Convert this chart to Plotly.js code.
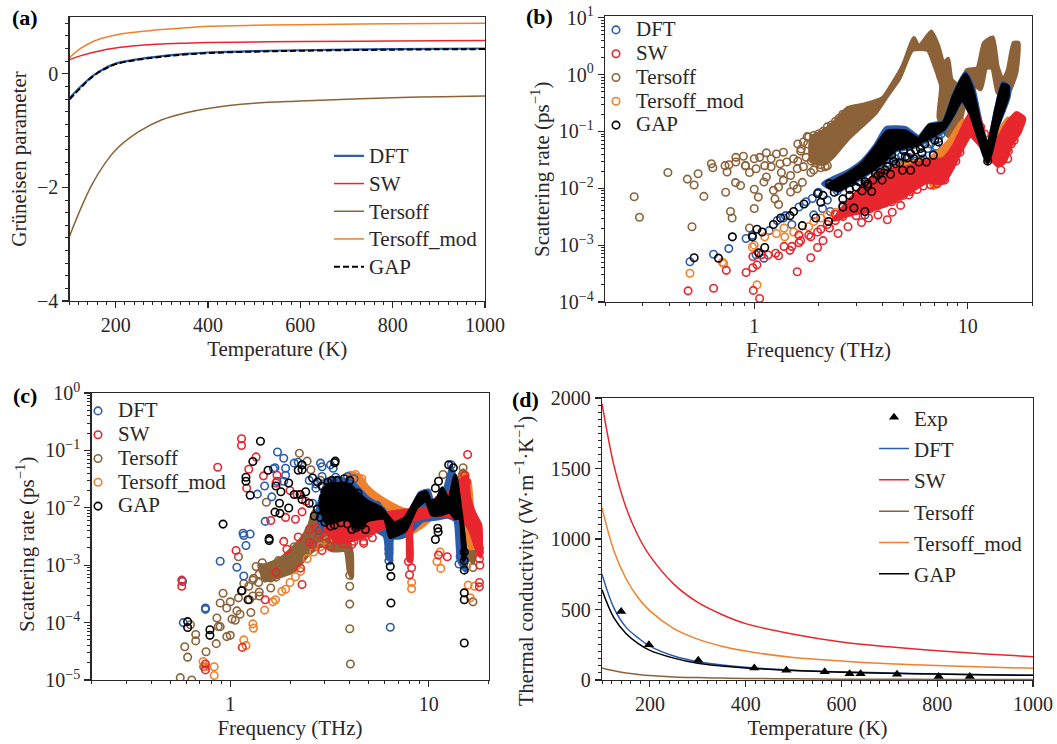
<!DOCTYPE html>
<html><head><meta charset="utf-8">
<script src="https://cdn.plot.ly/plotly-3.0.1.min.js"></script>
<style>html,body{margin:0;padding:0;background:#fff}</style></head>
<body><div id="chart" style="width:1057px;height:744px"></div>
<script>
const seriesNames=['DFT','SW','Tersoff','Tersoff_mod','GAP'];
const colDFT='#2b5caa',colSW='#e8262d',colTer='#8c6239',colMod='#f0802c',colGAP='#000000';

// panel (a)
const aT=[100,125,150,175,200,250,300,350,400,500,600,800,1000];
const aDFT=[-0.43,-0.22,-0.04,0.09,0.18,0.26,0.31,0.35,0.375,0.40,0.415,0.435,0.445];
const aSW=[0.25,0.32,0.375,0.42,0.456,0.50,0.526,0.54,0.55,0.56,0.567,0.578,0.585];
const aTer=[-2.86,-2.36,-1.93,-1.60,-1.34,-1.02,-0.81,-0.69,-0.61,-0.52,-0.48,-0.42,-0.39];
const aMod=[0.285,0.45,0.565,0.635,0.685,0.74,0.78,0.81,0.836,0.855,0.865,0.88,0.89];
const aGAP=[-0.45,-0.24,-0.05,0.08,0.17,0.25,0.30,0.34,0.365,0.39,0.405,0.425,0.435];

// panel (d)
const dT=[100,125,150,175,200,250,300,350,400,500,600,700,800,900,1000];
const dSW=[1960,1520,1225,1025,880,680,550,465,400,325,270,235,207,185,165];
const dMod=[1220,915,720,585,490,365,290,240,205,160,135,115,103,92,83];
const dDFT=[750,510,375,300,240,170,130,107,90,70,58,50,43,38,34];
const dGAP=[640,440,330,260,210,155,118,99,85,67,55,48,42,37,33];
const dTer=[85,65,50,40,32,22,17,14,11,8,6,5,4,3.5,3];
const dExpT=[140,198,301,418,485,565,617,640,716,803,868];
const dExpK=[485,250,140,85,70,58,45,45,40,25,25];

// panel (b) individually readable points
const bDftF=[0.5,0.645,0.76,0.916,0.98,1.11,1.02,1.175,1.28,1.5,1.37,1.62,1.87,1.9,2.09,2.27,2.6,3.5,3.9,3.3,1.4,1.75,2.0,2.2,2.45,2.9,3.2,3.7,4.2,4.6,4.0,4.3,4.7,5.0,5.3,5.7,6.1,6.5,6.9,7.3,3.6,3.8,4.4,4.9,5.5,6.2,6.7,7.1,7.5];
const bDftR=[0.00051,0.00069,0.00087,0.00131,0.0015,0.00059,0.00068,0.0018,0.0027,0.0023,0.003,0.0047,0.0066,0.0034,0.0044,0.0039,0.005,0.0071,0.0102,0.0034,0.0033,0.0058,0.0085,0.0062,0.009,0.013,0.016,0.02,0.028,0.033,0.022,0.025,0.028,0.024,0.035,0.03,0.04,0.05,0.04,0.075,0.012,0.016,0.02,0.037,0.028,0.033,0.06,0.055,0.09];
const bSwF=[0.49,0.645,0.74,0.916,0.985,1.03,0.99,1.06,0.985,1.08,1.16,1.26,1.3,1.38,1.47,1.5,1.59,1.62,1.65,1.62,1.84,1.98,2.1,1.84,1.98,2.25,2.47,2.75,3.18,3.43,3.8,4.2,4.43,4.85,5.3,14.3,15.4,1.8,2.05,2.2,2.4,2.4,2.6,2.8,3.0,3.2,3.5,3.8,4.1,4.4,4.7,5,5.4,5.8,6.2,6.7,7.2,7.8,8.3,8.8,9.2,14.5,15,15.5,16,16.5,17,10.2,10.6,11,11.5,12];
const bSwR=[0.000157,0.000174,0.00036,0.00033,0.0004,0.00045,0.00016,0.000115,0.00063,0.00068,0.00067,0.00072,0.00065,0.00095,0.00081,0.00095,0.00034,0.0011,0.0012,0.0015,0.0006,0.00091,0.0012,0.0014,0.0017,0.002,0.0016,0.0021,0.0025,0.003,0.0034,0.0028,0.0038,0.005,0.0076,0.021,0.033,0.0015,0.0019,0.0023,0.0027,0.0035,0.0032,0.0038,0.0033,0.0042,0.0044,0.005,0.0055,0.0058,0.0066,0.0075,0.0088,0.0095,0.011,0.0115,0.012,0.014,0.024,0.03,0.043,0.05,0.05,0.045,0.06,0.07,0.1,0.27,0.22,0.17,0.12,0.09];
const bTerF=[0.274,0.29,0.394,0.486,0.523,0.546,0.581,0.63,0.64,0.735,0.73,0.762,0.746,0.82,0.82,0.89,0.817,0.863,0.774,0.788,0.511,0.95,1.0,1.045,1.0,0.91,1.0,1.06,1.14,1.27,1.37,1.2,1.12,1.2,1.32,1.42,1.53,0.95,1.02,0.91,1.34,1.48,1.59,1.7,1.84,1.37,1.53,1.68,1.48,1.59,1.3,1.23,1.11,1.14,1.25,1.3,1.77,2.2,2.05,1.9,1.66,1.78,1.6,1.7,1.8,1.9,2.0,2.1,2.2,2.3,2.4,2.5,2.6,1.6,1.75,1.85,1.95,2.05,2.15,1.65,1.9,2.0,7.5,7.7,8,8.3,8.5,8.7,9,9.2,8.8,8.2,7.8];
const bTerR=[0.0071,0.0031,0.019,0.0145,0.0114,0.018,0.0072,0.027,0.023,0.0085,0.025,0.026,0.0193,0.035,0.029,0.0366,0.0126,0.0112,0.0039,0.003,0.0021,0.002,0.0044,0.007,0.0096,0.025,0.033,0.035,0.042,0.04,0.043,0.033,0.025,0.024,0.027,0.029,0.033,0.019,0.022,0.025,0.019,0.0168,0.022,0.024,0.019,0.0138,0.0113,0.0127,0.0086,0.0098,0.0105,0.0092,0.0129,0.0158,0.0065,0.0052,0.081,0.025,0.023,0.021,0.049,0.06,0.06,0.065,0.08,0.085,0.09,0.1,0.12,0.13,0.15,0.17,0.2,0.03,0.035,0.03,0.028,0.026,0.024,0.045,0.05,0.04,0.9,0.5,0.35,0.25,0.2,0.13,0.1,0.095,0.3,0.6,0.25];
const bModF=[0.5,0.71,0.72,1.03,1.0,0.98,1.12,1.27,1.39,1.38,1.53,1.62,1.8,1.9,2.05,2.2,2.4,2.7,3.1,3.6,3.97];
const bModR=[0.00032,0.0005,0.00047,0.0002,0.001,0.00093,0.0014,0.0016,0.0014,0.002,0.0017,0.0015,0.0021,0.0026,0.003,0.0034,0.0038,0.0045,0.0055,0.0075,0.0101];
const bGapF=[0.523,0.68,0.79,0.98,1.03,1.09,1.12,1.05,1.23,1.33,1.47,1.53,1.68,1.71,1.94,1.98,2.05,2.23,2.25,2.37,2.6,2.93,3.3,3.55,3.97,4.35,4.95,5.4,5.9,6.4,6.8,12.4,6.9,2.1,2.5,2.8,3.1,3.4,3.8,4.6,5.2,2.6,2.8,3.0,3.2,3.4,3.6,3.9,4.2,4.5,4.8,5.1,5.4,5.7,6.0,6.3,6.5,6.7,7.0,7.3,3.3,3.7,4.1,4.4,5.0,5.6,6.1];
const bGapR=[0.0006,0.00059,0.0014,0.0014,0.0019,0.0017,0.00091,0.00073,0.0023,0.003,0.0033,0.0039,0.0022,0.0053,0.003,0.0081,0.0057,0.0026,0.012,0.0085,0.0047,0.0045,0.0039,0.0088,0.014,0.0176,0.0208,0.0208,0.029,0.029,0.117,0.03,0.038,0.0075,0.0105,0.0095,0.013,0.011,0.017,0.027,0.034,0.0065,0.0075,0.0105,0.009,0.012,0.014,0.019,0.024,0.03,0.028,0.036,0.041,0.047,0.05,0.06,0.085,0.095,0.07,0.065,0.013,0.018,0.021,0.038,0.046,0.033,0.042];

// panel (b) outlines of the saturated clouds
const bTerBandF=[1.85,2.05,2.37,2.75,3.3,4.0,4.27,4.95,5.6,5.9,6.75,7.3,7.7,8.1,8.4,9.2,9.9,11.1,11.9,13.1,13.8,14.6,15.4,16.4,17.3,16.9,15.7,14.9,13.8,13,12.2,11.5,10.3,9.4,8.9,8.1,7.3,7.5,7.0,6.5,5.5,4.8,4.2,3.7,3.2,2.75,2.37,2.13,1.85];
const bTerBandR=[0.078,0.096,0.144,0.26,0.3,0.39,0.55,1.4,4.4,3.1,5.7,3.1,1.6,1.9,0.82,0.63,1.2,1.3,3.6,4.5,1.4,0.8,1.2,3.6,3.6,1.07,0.51,0.42,0.48,1.3,1.3,0.55,0.72,0.19,0.083,0.083,0.175,0.63,1.4,2.7,2.7,0.87,0.42,0.21,0.126,0.074,0.038,0.027,0.03];
const bDftBandF=[2.1,2.75,3.2,3.7,4.15,5.1,5.9,6.6,7.7,8.6,9.75,10.6,11.4,12.4,13.6,14.6,15.7,15.5,13.8,12.4,11.3,10.3,9.4,8.6,7.7,5.5,4.6,4.0,3.4,2.96,2.47];
const bDftBandR=[0.012,0.02,0.03,0.058,0.115,0.115,0.08,0.13,0.15,0.45,1.08,0.6,0.17,0.056,0.26,0.72,0.58,0.38,0.12,0.028,0.07,0.2,0.35,0.2,0.1,0.052,0.046,0.027,0.018,0.013,0.009];
const bModBandF=[3.9,4.6,6.6,8.2,9,9.5,9.3,8.4,7.4,6.9,6.4,5,4.2];
const bModBandR=[0.012,0.025,0.033,0.07,0.12,0.16,0.06,0.03,0.012,0.01,0.016,0.014,0.01];
const bModRightF=[13.5,15.4,16,15,14];
const bModRightR=[0.07,0.17,0.13,0.05,0.05];
const bSwBandF=[2.75,3.8,4.9,6.2,7.7,8.6,9.4,10.3,11.3,12.1,13.8,15.4,16.9,18.4,17.5,15.9,14.9,13.8,12.6,11.3,10.3,9.4,8.6,7.7,6.4,5.1,4.1,3.3,2.75,2.37];
const bSwBandR=[0.0058,0.019,0.022,0.029,0.033,0.056,0.11,0.21,0.096,0.056,0.074,0.144,0.21,0.17,0.096,0.056,0.029,0.025,0.037,0.06,0.084,0.049,0.025,0.0125,0.0129,0.0076,0.005,0.0039,0.0034,0.0028];
const bGapBandF=[2.2,2.75,3.2,3.7,4.2,5.1,5.9,6.6,7.7,8.6,9.75,10.5,11.3,12.4,13.6,14.6,15.4,15.4,13.8,12.4,11.3,10.3,9.4,8.6,7.7,5.5,4.6,4.0,3.4,2.96,2.47];
const bGapBandR=[0.011,0.018,0.027,0.052,0.1,0.1,0.074,0.126,0.14,0.42,1.0,0.55,0.16,0.056,0.245,0.67,0.62,0.42,0.126,0.029,0.074,0.21,0.37,0.21,0.11,0.056,0.049,0.029,0.019,0.014,0.0093];

// panel (c) individually readable points
const cDftF=[0.575,0.58,0.75,0.75,0.89,1.08,1.17,1.16,1.26,1.17,1.2,1.49,1.37,1.5,1.62,1.73,1.86,1.9,1.9,1.68,1.65,1.86,2.1,6.4,2.85,2.9,3.2,3.3,3.6,13,14.2,14.4,6.3,6.3,6.3,1.72,2.3,2.2,2.5,2.7,2.7,2.9,3.1,3.3,3.5,3.7,4.2,4.6,5,5.5,2.6,2.8,3.4,3.9];
const cDftR=[0.00052,0.0001,0.00018,0.00017,0.00117,0.00092,0.00065,0.0036,0.0035,0.0033,0.0022,0.024,0.0173,0.0058,0.0155,0.094,0.073,0.049,0.037,0.05,0.048,0.029,0.06,0.000083,0.06,0.052,0.056,0.049,0.029,0.056,0.00105,0.0014,0.0019,0.0012,0.0016,0.029,0.056,0.062,0.03,0.022,0.026,0.035,0.008,0.0037,0.03,0.0042,0.032,0.015,0.012,0.011,0.012,0.004,0.034,0.035];
const cSwF=[0.57,0.57,0.865,1.14,1.14,1.24,1.35,1.21,1.07,1.15,0.75,0.75,1.5,1.7,1.47,1.6,1.72,1.9,2.13,2.3,1.86,1.93,2.17,2.26,15.7,18,18,12.4,11.2,8.2,7.9,8.0,15.2,1.7,2.0,2.3,2.5,2.8,3.3,3.7,4.2,4.7,5.2,2.5,2.7,3,3.2,3.5,3.7,3.9,4.1,4.4,4.7,5,5.4,5.8,2.2,2.4,2.6,2.9,18,18,18,18.1,15.2,15.5];
const cSwR=[0.00055,0.00043,0.051,0.16,0.122,0.047,0.077,0.022,0.0018,0.000037,0.000019,0.000015,0.00025,0.00075,0.036,0.006,0.037,0.0068,0.0063,0.00046,0.0026,0.0019,0.017,0.00089,0.085,0.0005,0.00042,0.0014,0.0015,0.0009,0.00116,0.00068,0.037,0.027,0.02,0.0085,0.0042,0.0034,0.0028,0.0024,0.0026,0.0026,0.003,0.0025,0.0045,0.0032,0.0021,0.0043,0.0036,0.0032,0.0023,0.0042,0.0024,0.0036,0.0045,0.0055,0.0031,0.013,0.0023,0.0018,0.002,0.0013,0.0017,0.001,0.037,0.028];
const cTerF=[0.56,0.64,0.59,0.61,0.63,0.67,0.67,0.755,0.735,0.857,0.85,0.87,0.89,0.92,0.89,0.96,1,0.96,1,1.02,1.06,1.08,1.12,1.1,1.27,1.1,1.17,1.24,1.31,1.39,1.3,1.4,4,4,4,4.03,4,1.52,2.23,2.44,11.8,14.9,16.7,16.7,1.15,1.25,1.4,1.6,2.0,2.55,2.85,1.35,1.45,1.55,1.65,1.75,1.3,1.4,1.5,1.6,1.7,1.8,1.9,2,2.1];
const cTerR=[0.000011,0.00001,0.000038,0.000025,0.000092,0.000062,0.000048,0.000031,0.000017,0.00012,0.000043,0.000085,0.000085,0.000325,0.00022,0.00018,0.00023,0.000057,0.00006,0.000115,0.00011,0.00016,0.00014,0.00027,0.00015,0.0014,0.00048,0.00043,0.00059,0.0005,0.00029,0.00029,0.00043,0.00021,0.000078,0.000019,0.00067,0.0125,0.089,0.065,0.038,0.05,0.00091,0.00023,0.00036,0.00025,0.00034,0.0004,0.0012,0.046,0.03,0.00095,0.0011,0.0008,0.00075,0.0012,0.00055,0.0007,0.0006,0.0006,0.00062,0.00072,0.0012,0.0011,0.0021];
const cModF=[0.83,0.83,1.17,1.2,1.3,1.31,1.49,1.64,1.69,1.82,1.9,2,2.13,2.26,2.44,2.63,2.85,3.1,3.4,8.2,8.2,11.5,11,15.8,17,16.2,15.5,11.4,4.03,4.28,4.6,0.75,0.73];
const cModR=[0.000017,0.000012,0.00005,0.00004,0.000095,0.00008,0.000165,0.00023,0.00025,0.00035,0.00038,0.0005,0.00063,0.00078,0.0013,0.0017,0.0021,0.0027,0.0034,0.00039,0.0005,0.00088,0.00116,0.00045,0.00043,0.00027,0.00095,0.0017,0.037,0.038,0.032,0.000017,0.000021];
const cGapF=[0.61,0.61,0.79,0.79,0.92,1.14,1.23,1.42,1.3,1.2,1.2,1.26,1.55,1.57,1.57,1.68,1.78,1.77,1.97,2.3,2.3,1.97,1.7,1.8,2.3,2.25,2.5,3.36,3.38,6.45,6.45,6.4,15.1,15.1,15.1,15.1,10.8,11.2,10.8,12.6,13.3,11.1,11.15,2.1,2.2,2.65,2.75,2.6,2.4,15.1,15.1,2.75,2.85,2.9,3.0,3.1,3.2,3.3,3.45,3.6,3.75,3.9,4.0,4.3,4.6,2.95,3.15,3.35,4.1,4.4,4.8,3.0,3.25];
const cGapR=[0.000104,0.000082,0.000075,0.00006,0.0052,0.00036,0.00025,0.144,0.064,0.034,0.029,0.0165,0.045,0.0029,0.0027,0.0084,0.008,0.012,0.0099,0.056,0.046,0.027,0.024,0.019,0.014,0.017,0.012,0.061,0.065,0.00064,0.00022,0.00095,0.000044,0.00033,0.00025,0.00082,0.0028,0.029,0.022,0.056,0.05,0.0044,0.0038,0.017,0.045,0.0072,0.028,0.033,0.019,0.0012,0.0017,0.0095,0.0068,0.024,0.0056,0.028,0.0048,0.007,0.03,0.0055,0.032,0.0052,0.03,0.0045,0.005,0.015,0.0062,0.005,0.0042,0.018,0.0042,0.0195,0.03];

// panel (c) outlines of the saturated clouds
const cTerBandF=[1.4,1.5,1.8,2.0,2.3,2.5,2.65,3,3.5,3.9,4.1,4.1,3.95,3.8,3.3,2.9,2.5,2.1,1.8,1.5];
const cTerBandR=[0.001,0.001,0.0013,0.0018,0.003,0.005,0.009,0.007,0.006,0.003,0.0016,0.0006,0.0008,0.0018,0.0018,0.0022,0.0016,0.0008,0.00065,0.00055];
const cTerRightF=[14.4,15,15.6,16.2,16.8,16.8,15.8,14.8];
const cTerRightR=[0.04,0.045,0.03,0.012,0.004,0.0011,0.0014,0.0035];
const cDftBandF=[2.8,3.1,4.0,4.9,6.0,6.2,6.45,6.6,8,9,10,10.7,12,13,13.7,14.3,15,15.4,15.3,14.2,13.6,12.5,11,9.3,7.8,7,6.4,6.2,6,5,4,3,2.75];
const cDftBandR=[0.012,0.03,0.03,0.015,0.009,0.002,0.0011,0.004,0.008,0.018,0.02,0.009,0.02,0.05,0.03,0.012,0.003,0.0012,0.0008,0.0012,0.006,0.007,0.0065,0.006,0.0034,0.003,0.003,0.0013,0.0032,0.0045,0.0038,0.0043,0.0065];
const cModBandF=[4,4.5,4.9,5.5,6.4,7.5,8.4,8.4,7.2,6.2,5.3,4.5,4];
const cModBandR=[0.04,0.036,0.0235,0.0167,0.012,0.0092,0.008,0.0066,0.0076,0.0092,0.012,0.019,0.025];
const cModLowF=[7,8.5,10,10,8,6.8];
const cModLowR=[0.0055,0.007,0.01,0.006,0.0035,0.0032];
const cModRightF=[14.4,14.7,16,16.5,17,16,15];
const cModRightR=[0.01,0.04,0.03,0.01,0.002,0.002,0.003];
const cSwBandF=[3,3.5,5,6,7.5,10,11,12,13,14.5,15.5,16,17,18.2,18.2,17.2,16.2,15,13,11,9,8.2,8.2,7.9,7.7,6,4.5,3.5];
const cSwBandR=[0.0045,0.0065,0.0085,0.008,0.009,0.01,0.015,0.015,0.02,0.03,0.035,0.015,0.008,0.005,0.0014,0.0022,0.004,0.006,0.007,0.0075,0.0065,0.006,0.0012,0.0012,0.005,0.0045,0.003,0.0025];
const cGapBandF=[2.85,3.1,4,4.3,4.9,5.7,6.3,6.7,7.6,9,9.7,10.2,11,11.7,12.6,13.6,14.4,15.2,15,14.4,13.6,12.8,11.4,10.4,9.7,8.7,7.6,6.9,6.4,6,5,4.3,3.9,3.07];
const cGapBandR=[0.0113,0.025,0.025,0.019,0.0129,0.01,0.0066,0.0054,0.0066,0.017,0.0188,0.013,0.014,0.022,0.0129,0.036,0.01,0.002,0.0012,0.0066,0.0066,0.0086,0.0076,0.0076,0.0136,0.0103,0.004,0.0034,0.0031,0.0066,0.0062,0.0044,0.0066,0.0054];

const ink='#2a2627', serif='"Liberation Serif","Times New Roman",serif';
const W=1057,H=744;
const box={a:[69.5,485,17,301],b:[605,1032,16,302],c:[91.5,488.5,393,680],d:[602,1033,398,680]};
const dom=(p)=>({x:[box[p][0]/W,box[p][1]/W],y:[1-box[p][3]/H,1-box[p][2]/H]});
const label=(n,px)=>`<span style="font-size:${px}px">${n}</span>`;

function logMinor(lo,hi){const v=[];for(let e=lo;e<hi;e++)for(let m=2;m<10;m++)v.push(m*Math.pow(10,e));return v;}
const xLogMinor=[0.2,0.3,0.4,0.5,0.6,0.7,0.8,0.9,2,3,4,5,6,7,8,9,20];
function axCommon(){return {showline:true,mirror:true,linecolor:ink,linewidth:1.3,showgrid:false,zeroline:false,
  ticks:'outside',ticklen:6,tickwidth:1.2,tickcolor:ink,tickfont:{family:serif,size:20,color:ink}};}
function titleOf(t,s){return {text:t,standoff:s,font:{family:serif,size:21,color:ink}};}
function linX(p,anchor){return Object.assign(axCommon(),{domain:dom(p).x,anchor,range:[100,1000],tickvals:[200,400,600,800,1000],
  minor:{ticks:'outside',ticklen:3,tickwidth:1,tickcolor:ink,dtick:20,tick0:0,showgrid:false},title:titleOf('Temperature (K)',6)});}
function logX(p,anchor){return Object.assign(axCommon(),{type:'log',domain:dom(p).x,anchor,range:[Math.log10(0.2),Math.log10(20)],
  tickmode:'array',tickvals:[1,10],ticktext:['1','10'],minor:{ticks:'outside',ticklen:3,tickwidth:1,tickcolor:ink,tickmode:'array',tickvals:xLogMinor,showgrid:false},
  title:titleOf('Frequency (THz)',6)});}
function logY(p,anchor,lo,hi,top,labels){const vals=[];for(let e=lo;e<=hi;e++)vals.push(Math.pow(10,e));
  return Object.assign(axCommon(),{type:'log',domain:dom(p).y,anchor,range:[lo,top],tickmode:'array',tickvals:vals,ticktext:labels,
  minor:{ticks:'outside',ticklen:3,tickwidth:1,tickcolor:ink,tickmode:'array',tickvals:logMinor(lo,hi),showgrid:false}});}

const pts=(x,y,n,c,xa,ya,lg,rank)=>({type:'scatter',mode:'markers',x,y,name:label(n,21),xaxis:xa,yaxis:ya,legend:lg,legendrank:rank,
  marker:{symbol:'circle-open',size:7.5,color:c,line:{width:1.6,color:c}},hoverinfo:'x+y'});
const band=(x,y,c,xa,ya)=>({type:'scatter',mode:'lines',x:x.concat([x[0]]),y:y.concat([y[0]]),fill:'toself',fillcolor:c,line:{color:c,width:4,shape:'spline',smoothing:0.5},showlegend:false,xaxis:xa,yaxis:ya,hoverinfo:'skip'});
const crv=(x,y,n,c,xa,ya,lg,rank,w,dash)=>({type:'scatter',mode:'lines',x,y,name:label(n,21),xaxis:xa,yaxis:ya,legend:lg,legendrank:rank,
  line:{color:c,width:w||1.5,dash:dash||'solid',shape:'spline',smoothing:1},hoverinfo:'x+y'});

const traces=[
 crv(aT,aDFT,seriesNames[0],colDFT,'x','y','legend',1,2.2),
 crv(aT,aSW,seriesNames[1],colSW,'x','y','legend',2),
 crv(aT,aTer,seriesNames[2],colTer,'x','y','legend',3),
 crv(aT,aMod,seriesNames[3],colMod,'x','y','legend',4),
 crv(aT,aGAP,seriesNames[4],colGAP,'x','y','legend',5,2,'6px,3px'),

 band(bTerBandF,bTerBandR,colTer,'x2','y2'),pts(bTerF,bTerR,seriesNames[2],colTer,'x2','y2','legend2',3),
 band(bDftBandF,bDftBandR,colDFT,'x2','y2'),pts(bDftF,bDftR,seriesNames[0],colDFT,'x2','y2','legend2',1),
 band(bModBandF,bModBandR,colMod,'x2','y2'),band(bModRightF,bModRightR,colMod,'x2','y2'),pts(bModF,bModR,seriesNames[3],colMod,'x2','y2','legend2',4),
 band(bSwBandF,bSwBandR,colSW,'x2','y2'),pts(bSwF,bSwR,seriesNames[1],colSW,'x2','y2','legend2',2),
 band(bGapBandF,bGapBandR,colGAP,'x2','y2'),pts(bGapF,bGapR,seriesNames[4],colGAP,'x2','y2','legend2',5),

 band(cTerBandF,cTerBandR,colTer,'x3','y3'),band(cTerRightF,cTerRightR,colTer,'x3','y3'),pts(cTerF,cTerR,seriesNames[2],colTer,'x3','y3','legend3',3),
 band(cModBandF,cModBandR,colMod,'x3','y3'),band(cModLowF,cModLowR,colMod,'x3','y3'),band(cModRightF,cModRightR,colMod,'x3','y3'),pts(cModF,cModR,seriesNames[3],colMod,'x3','y3','legend3',4),
 band(cDftBandF,cDftBandR,colDFT,'x3','y3'),pts(cDftF,cDftR,seriesNames[0],colDFT,'x3','y3','legend3',1),
 band(cSwBandF,cSwBandR,colSW,'x3','y3'),pts(cSwF,cSwR,seriesNames[1],colSW,'x3','y3','legend3',2),
 band(cGapBandF,cGapBandR,colGAP,'x3','y3'),pts(cGapF,cGapR,seriesNames[4],colGAP,'x3','y3','legend3',5),

 crv(dT,dTer,seriesNames[2],colTer,'x4','y4','legend4',4),
 crv(dT,dMod,seriesNames[3],colMod,'x4','y4','legend4',5),
 crv(dT,dSW,seriesNames[1],colSW,'x4','y4','legend4',3),
 crv(dT,dDFT,seriesNames[0],colDFT,'x4','y4','legend4',2),
 crv(dT,dGAP,seriesNames[4],colGAP,'x4','y4','legend4',6),
 {type:'scatter',mode:'markers',x:dExpT,y:dExpK,name:label('Exp',21),xaxis:'x4',yaxis:'y4',legend:'legend4',legendrank:1,
  marker:{symbol:'triangle-up',size:9,color:'#000'},hoverinfo:'x+y'}
];

const legendOf=(x,y,sz)=>({x:x/W,y:1-y/H,xanchor:'left',yanchor:'top',bgcolor:'rgba(0,0,0,0)',borderwidth:0,font:{family:serif,size:sz,color:ink},itemwidth:30,tracegroupgap:0});
const panel=(t,x,y)=>({text:'<b>'+t+'</b>',xref:'paper',yref:'paper',x:x/W,y:1-y/H,xanchor:'left',yanchor:'middle',showarrow:false,font:{family:serif,size:22,color:'#000'}});
const yTitle=(t,x,y,sz)=>({text:t,xref:'paper',yref:'paper',x:x/W,y:1-y/H,xanchor:'center',yanchor:'middle',textangle:-90,showarrow:false,font:{family:serif,size:sz,color:ink}});

const layout={width:W,height:H,autosize:false,margin:{l:0,r:0,t:0,b:0},paper_bgcolor:'#fff',plot_bgcolor:'#fff',font:{family:serif,color:ink},
 xaxis:linX('a','y'),
 yaxis:Object.assign(axCommon(),{domain:dom('a').y,anchor:'x',range:[-4,1],tickvals:[-4,-2,0],ticktext:['−4','−2','0'],
   minor:{ticks:'outside',ticklen:3,tickwidth:1,tickcolor:ink,dtick:2/9,tick0:0,showgrid:false},title:titleOf('Grüneisen parameter',4)}),
 xaxis2:logX('b','y2'),
 yaxis2:logY('b','x2',-4,1,1.03,['10<sup>−4</sup>','10<sup>−3</sup>','10<sup>−2</sup>','10<sup>−1</sup>','10<sup>0</sup>','10<sup>1</sup>']),
 xaxis3:logX('c','y3'),
 yaxis3:logY('c','x3',-5,0,0,['10<sup>−5</sup>','10<sup>−4</sup>','10<sup>−3</sup>','10<sup>−2</sup>','10<sup>−1</sup>','10<sup>0</sup>']),
 xaxis4:linX('d','y4'),
 yaxis4:Object.assign(axCommon(),{domain:dom('d').y,anchor:'x4',range:[0,2000],tickvals:[0,500,1000,1500,2000],
   minor:{ticks:'outside',ticklen:3,tickwidth:1,tickcolor:ink,dtick:50,tick0:0,showgrid:false}}),
 legend:legendOf(329,137,19),
 legend2:legendOf(596,13,16),
 legend3:legendOf(78,394,16),
 legend4:legendOf(874,396.5,21.8),
 annotations:[panel('(a)',10,18),panel('(b)',524,17),panel('(c)',11,395),panel('(d)',510,399),
  yTitle('Scattering rate (ps<sup>−1</sup>)',540,170,21),
  yTitle('Scattering rate (ps<sup>−1</sup>)',25,545,21),
  yTitle('Thermal conductivity (W·m<sup>−1</sup>·K<sup>−1</sup>)',524,561,20.5)]
};
Plotly.newPlot('chart',traces,layout,{displayModeBar:false,staticPlot:true});
</script></body></html>
